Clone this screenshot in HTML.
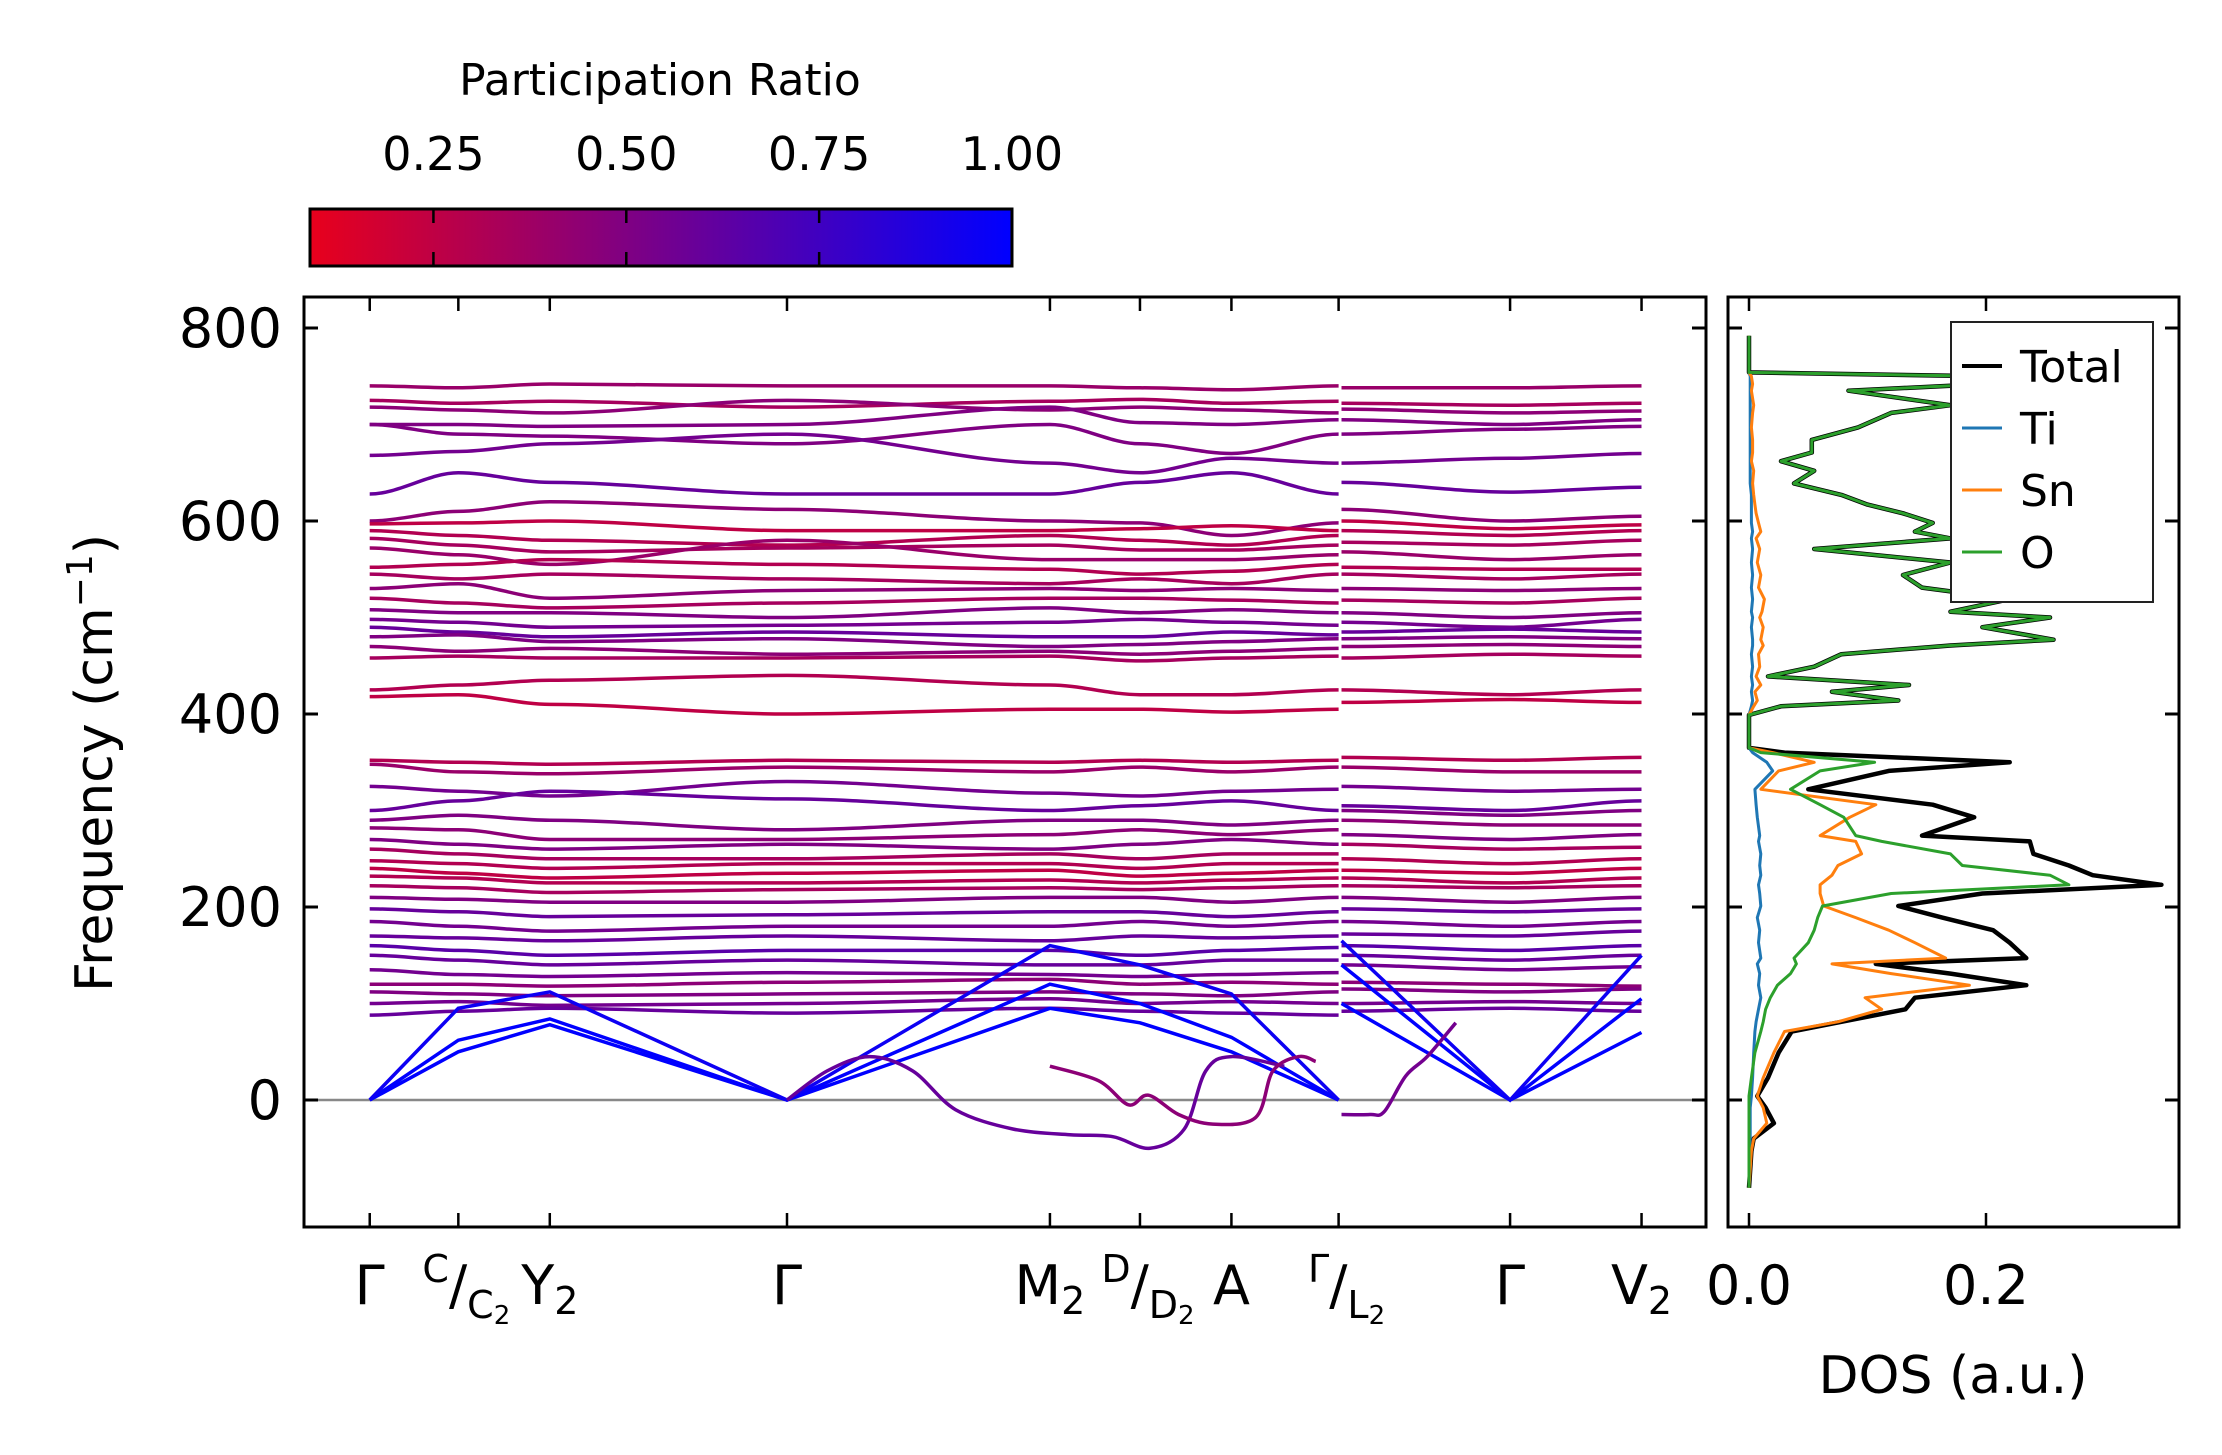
<!DOCTYPE html>
<html><head><meta charset="utf-8"><style>
html,body{margin:0;padding:0;background:#fff;}
svg{display:block;font-family:"DejaVu Sans","Liberation Sans",sans-serif;}
</style></head><body>
<svg id="fig" width="2222" height="1455" viewBox="0 0 2222 1455" xmlns="http://www.w3.org/2000/svg">
<defs>
<linearGradient id="cbgrad" x1="0" x2="1" y1="0" y2="0">
<stop offset="0" stop-color="rgb(232,0,28)"/><stop offset="1" stop-color="rgb(0,0,255)"/>
</linearGradient>
<clipPath id="mainclip"><rect x="304" y="297" width="1402" height="930"/></clipPath>
<clipPath id="dosclip"><rect x="1728" y="297" width="451" height="930"/></clipPath>
</defs>
<rect width="2222" height="1455" fill="#fff"/>

<g>
<text x="660" y="95" font-size="44" text-anchor="middle">Participation Ratio</text>
<rect x="310" y="209" width="702" height="57" fill="url(#cbgrad)" stroke="#000" stroke-width="3"/>
<g id="cbticks"></g>
</g>

<g>
<line x1="304" x2="1706" y1="1100" y2="1100" stroke="#888" stroke-width="2.5"/>
<g id="bands" clip-path="url(#mainclip)"></g>
<rect x="304" y="297" width="1402" height="930" fill="none" stroke="#000" stroke-width="3"/>
<g id="mainticks"></g>
<text transform="translate(112,763) rotate(-90)" font-size="52" text-anchor="middle">Frequency (cm<tspan dy="-20" font-size="36">−1</tspan><tspan dy="20">)</tspan></text>
</g>

<g>
<g id="dos" clip-path="url(#dosclip)"></g>
<rect x="1728" y="297" width="451" height="930" fill="none" stroke="#000" stroke-width="3"/>
<g id="dosticks"></g>
<text x="1953" y="1393" font-size="52" text-anchor="middle">DOS (a.u.)</text>
<g>
<rect x="1951" y="322" width="202" height="280" fill="#fff" stroke="#222" stroke-width="2"/>
<line x1="1962" x2="2002" y1="366" y2="366" stroke="#000" stroke-width="4"/>
<text x="2020" y="382" font-size="44">Total</text>
<line x1="1962" x2="2002" y1="428" y2="428" stroke="#1f77b4" stroke-width="3"/>
<text x="2020" y="444" font-size="44">Ti</text>
<line x1="1962" x2="2002" y1="490" y2="490" stroke="#ff7f0e" stroke-width="3"/>
<text x="2020" y="506" font-size="44">Sn</text>
<line x1="1962" x2="2002" y1="552" y2="552" stroke="#2ca02c" stroke-width="3"/>
<text x="2020" y="568" font-size="44">O</text>
</g>
</g>
</svg>
<script>
const yTicks = [0, 200, 400, 600, 800];
const kNodes1 = [0, 0.62, 1.26, 2.92, 4.76, 5.39, 6.03, 6.78];
const kNodes2 = [6.80, 7.98, 8.90];
const kTickPos = [0, 0.62, 1.26, 2.92, 4.76, 5.39, 6.03, 6.78, 7.98, 8.90];
const kTickLabels = ["Γ","C/C2","Y2","Γ","M2","D/D2","A","Γ/L2","Γ","V2"];
const cbTicks = [0.25, 0.50, 0.75, 1.00];
const cbTickLabels = ["0.25","0.50","0.75","1.00"];
const dosTicks = [0.0, 0.2];
const dosTickLabels = ["0.0","0.2"];

const bandSec1 = [
[740,738,742,740,740,738,736,740],[725,722,724,718,724,726,722,724],[718,715,712,725,715,718,715,712],
[700,700,698,700,718,702,700,705],[700,690,688,680,700,680,670,690],[668,672,680,690,660,650,665,660],
[628,650,640,628,628,640,650,628],[600,610,620,612,600,598,585,598],[597,598,600,590,590,592,595,590],
[590,585,580,575,585,580,575,585],[582,575,568,572,575,570,570,575],[572,565,555,580,560,560,560,565],
[552,555,560,555,550,545,548,555],[545,540,545,540,535,540,535,545],[530,535,520,528,530,528,530,528],
[520,515,510,515,520,520,518,515],[508,505,505,500,510,505,508,505],[498,495,490,492,495,498,495,492],
[490,485,480,485,480,480,485,482],[480,482,475,478,470,472,475,478],[470,465,468,462,465,462,465,468],
[458,460,458,458,460,455,458,460],[425,430,435,440,430,420,420,425],[418,420,410,400,405,405,402,405],
[352,350,348,352,350,352,350,352],[348,340,338,345,340,345,340,345],[325,320,315,330,318,315,320,322],
[300,310,320,312,300,305,310,300],[290,295,290,280,290,290,285,290],[282,280,270,270,275,280,275,280],
[270,265,260,265,260,265,270,265],[260,255,250,250,255,250,255,255],[248,245,240,245,245,240,245,245],
[240,235,230,235,238,232,235,238],[232,230,225,225,228,225,228,230],[222,220,215,218,220,218,220,222],
[210,208,205,205,210,210,205,210],[198,195,190,192,195,195,190,195],[185,180,175,180,180,185,180,185],
[170,168,165,170,165,170,168,170],[160,155,150,155,155,150,155,158],[150,145,140,145,140,140,145,145],
[135,130,128,132,130,128,130,132],[120,120,118,122,125,120,122,120],[112,110,108,110,112,110,108,112],
[100,102,98,100,105,100,102,100],[88,92,95,90,95,92,90,88]
];
const bandSec2 = [
[738,738,740],[722,720,722],[716,712,714],[705,700,705],[690,695,698],[660,665,670],[640,630,635],
[612,600,605],[600,592,596],[590,585,590],[578,575,580],[568,560,565],[552,550,550],[545,540,545],
[530,528,530],[518,515,520],[505,500,505],[495,490,498],[485,488,485],[478,480,478],[470,472,470],
[458,462,460],[425,420,425],[412,415,412],
[355,352,355],[345,340,340],[325,320,322],[305,300,310],[300,295,300],[290,285,285],[275,270,275],
[265,260,262],[250,245,250],[238,235,240],[230,225,230],[222,220,222],[210,205,210],[198,195,198],
[185,180,185],[172,170,175],[160,155,160],[150,145,150],[140,135,138],[122,120,118],[115,112,115],
[100,102,100],[92,95,92]
];
const bandPR = [.40,.35,.45,.5,.5,.55,.6,.45,.25,.3,.35,.4,.3,.35,.45,.35,.5,.55,.6,.5,.45,.35,.3,.25,
.3,.4,.55,.6,.5,.45,.5,.35,.3,.25,.3,.35,.5,.6,.55,.6,.65,.6,.55,.45,.5,.55,.6];

const acSec1 = [[0,50,78,0,95,80,50,0],[0,62,84,0,120,100,65,0],[0,95,112,0,160,140,110,0]];
const acSec2 = [[100,0,70],[140,0,105],[165,0,150]];
const acPR = [1.0, 1.0, 0.95];

const softK1 = [2.92,3.2,3.5,3.8,4.1,4.5,4.9,5.2,5.46,5.7,5.85,6.03,6.4];
const softF1 = [0,30,45,30,-10,-30,-36,-38,-50,-30,30,45,35];
const softK2 = [4.76,5.1,5.31,5.45,5.66,5.9,6.2,6.32,6.5,6.62];
const softF2 = [35,20,-5,5,-15,-25,-18,30,45,40];
const softK3 = [6.80,7.0,7.1,7.25,7.4,7.6];
const softF3 = [-15,-15,-12,25,45,80];
const softPR = [0.6, 0.45, 0.55];

const dosFreq = [-91,-53,-40,-24,-8,4,23,49,71,81,94,106,119,131,141,147,163,176,189,201,214,223,233,243,255,268,274,293,306,322,341,350,360,365,399,408,414,423,430,439,449,462,471,477,490,500,506,519,531,544,557,571,582,589,598,608,617,627,639,652,662,671,684,697,712,720,735,742,750,754,792];
const dosTotal = [0,.002,.004,.021,.014,.007,.016,.025,.036,.078,.132,.14,.234,.17,.107,.234,.22,.206,.163,.126,.197,.348,.29,.27,.24,.237,.146,.19,.155,.05,.118,.22,.03,.0,.0,.027,.126,.07,.135,.016,.055,.078,.17,.257,.197,.254,.17,.22,.146,.13,.17,.055,.17,.14,.155,.13,.10,.078,.038,.055,.027,.053,.053,.092,.12,.17,.084,.2,.2,0,0];
const dosTi = [0,0,.001,.001,.001,.002,.003,.004,.005,.006,.008,.01,.008,.009,.007,.01,.008,.009,.007,.01,.009,.008,.01,.009,.01,.008,.009,.007,.006,.005,.02,.015,.003,0,0,.002,.003,.002,.003,.002,.003,.002,.003,.003,.002,.003,.002,.003,.002,.003,.002,.003,.002,.003,.002,.002,.002,.002,.001,.001,.001,.001,.001,.001,.001,.001,.001,.001,.001,0,0];
const dosSn = [0,.002,.004,.015,.012,.007,.012,.021,.03,.075,.112,.098,.186,.12,.07,.166,.14,.118,.09,.063,.06,.06,.07,.075,.095,.09,.06,.085,.107,.01,.025,.055,.02,0,0,.004,.007,.005,.01,.006,.009,.008,.012,.01,.012,.009,.011,.013,.008,.01,.007,.009,.006,.01,.008,.006,.005,.004,.003,.004,.002,.003,.003,.002,.003,.004,.002,.003,.002,0,0];
const dosO = [0,0,0,0,0,0,.002,.005,.01,.012,.014,.018,.024,.035,.04,.038,.05,.055,.058,.062,.12,.27,.254,.18,.17,.112,.09,.08,.06,.035,.06,.106,.01,0,0,.027,.126,.07,.135,.016,.055,.078,.17,.257,.197,.254,.17,.22,.146,.13,.17,.055,.17,.14,.155,.13,.10,.078,.038,.055,.027,.053,.053,.092,.12,.17,.084,.2,.2,0,0];

const NS = "http://www.w3.org/2000/svg";
function yS(f){ return 1100 - f*0.965; }
function xK(k){ return 304 + (k + 0.46)*142.9; }
function xD(d){ return 1749 + d*1185; }
function xCB(v){ return 310 + (v - 0.09)/0.91*702; }
function prColor(v){ const t=Math.max(0,Math.min(1,(v-0.09)/0.91)); return `rgb(${Math.round(232*(1-t))},0,${Math.round(28+227*t)})`; }
function mk(tag, attrs, parent){ const e=document.createElementNS(NS,tag); for(const a in attrs) e.setAttribute(a,attrs[a]); parent.appendChild(e); return e; }

function flatPath(ks, fs){
  let d=`M${xK(ks[0]).toFixed(1)},${yS(fs[0]).toFixed(1)}`;
  for(let i=0;i<ks.length-1;i++){
    const x0=xK(ks[i]),x1=xK(ks[i+1]),y0=yS(fs[i]),y1=yS(fs[i+1]),dx=(x1-x0)/3;
    d+=` C${(x0+dx).toFixed(1)},${y0.toFixed(1)} ${(x1-dx).toFixed(1)},${y1.toFixed(1)} ${x1.toFixed(1)},${y1.toFixed(1)}`;
  }
  return d;
}
function crPath(ks, fs){
  const P=ks.map((k,i)=>[xK(k),yS(fs[i])]);
  let d=`M${P[0][0].toFixed(1)},${P[0][1].toFixed(1)}`;
  for(let i=0;i<P.length-1;i++){
    const p0=P[Math.max(0,i-1)],p1=P[i],p2=P[i+1],p3=P[Math.min(P.length-1,i+2)];
    const c1=[p1[0]+(p2[0]-p0[0])/6,p1[1]+(p2[1]-p0[1])/6], c2=[p2[0]-(p3[0]-p1[0])/6,p2[1]-(p3[1]-p1[1])/6];
    d+=` C${c1[0].toFixed(1)},${c1[1].toFixed(1)} ${c2[0].toFixed(1)},${c2[1].toFixed(1)} ${p2[0].toFixed(1)},${p2[1].toFixed(1)}`;
  }
  return d;
}
function linPath(ks, fs){ return ks.map((k,i)=>(i?"L":"M")+xK(k).toFixed(1)+","+yS(fs[i]).toFixed(1)).join(" "); }

const gB=document.getElementById("bands");
bandSec1.forEach((b,i)=>{
  const p=mk("path",{d:flatPath(kNodes1,b),fill:"none",stroke:prColor(bandPR[i]),"stroke-width":3.5},gB);
  
  
});
bandSec2.forEach((b,i)=>{
  const p=mk("path",{d:flatPath(kNodes2,b),fill:"none",stroke:prColor(bandPR[i]),"stroke-width":3.5},gB);
  
  
});
acSec1.forEach((b,i)=>{
  const p=mk("path",{d:linPath(kNodes1,b),fill:"none",stroke:prColor(acPR[i]),"stroke-width":3.5},gB);
  
  
});
acSec2.forEach((b,i)=>{
  const p=mk("path",{d:linPath(kNodes2,b),fill:"none",stroke:prColor(acPR[i]),"stroke-width":3.5},gB);
  
  
});
[[softK1,softF1],[softK2,softF2],[softK3,softF3]].forEach((s,i)=>{
  const p=mk("path",{d:crPath(s[0],s[1]),fill:"none",stroke:prColor(softPR[i]),"stroke-width":3.5},gB);
  
  
});

const gT=document.getElementById("mainticks");
yTicks.forEach((v,i)=>{
  const y=yS(v);
  mk("line",{x1:304,x2:318,y1:y,y2:y,stroke:"#000","stroke-width":3},gT);
  mk("line",{x1:1692,x2:1706,y1:y,y2:y,stroke:"#000","stroke-width":3},gT);
  mk("line",{x1:1728,x2:1742,y1:y,y2:y,stroke:"#000","stroke-width":3},gT);
  mk("line",{x1:2165,x2:2179,y1:y,y2:y,stroke:"#000","stroke-width":3},gT);
  const t=mk("text",{x:282,y:y+19,"font-size":54,"text-anchor":"end"},gT);
  t.textContent=String(v);
  
  
});
kTickPos.forEach((k,i)=>{
  const x=xK(k);
  mk("line",{x1:x,x2:x,y1:297,y2:311,stroke:"#000","stroke-width":2.5},gT);
  mk("line",{x1:x,x2:x,y1:1213,y2:1227,stroke:"#000","stroke-width":2.5},gT);
  const lab=kTickLabels[i];
  const t=mk("text",{x:x,y:1304,"font-size":54,"text-anchor":"middle"},gT);
  
  
  if(lab.includes("/")){
    const [a,b]=lab.split("/");
    t.setAttribute("x",x+8);
    const s1=mk("tspan",{"font-size":38,dy:-22},t); s1.textContent=a;
    const s2=mk("tspan",{"font-size":54,dy:22},t); s2.textContent="/";
    const s3=mk("tspan",{"font-size":38,dy:14},t); s3.textContent=b[0];
    const s4=mk("tspan",{"font-size":26,dy:6},t); s4.textContent=b.slice(1);
  } else if(lab.length>1){
    const s1=mk("tspan",{},t); s1.textContent=lab[0];
    const s2=mk("tspan",{"font-size":38,dy:10},t); s2.textContent=lab.slice(1);
  } else t.textContent=lab;
});

const gC=document.getElementById("cbticks");
cbTicks.forEach((v,i)=>{
  const x=xCB(v);
  mk("line",{x1:x,x2:x,y1:209,y2:223,stroke:"#000","stroke-width":2.5},gC);
  mk("line",{x1:x,x2:x,y1:252,y2:266,stroke:"#000","stroke-width":2.5},gC);
  const t=mk("text",{x:x,y:170,"font-size":46,"text-anchor":"middle"},gC);
  t.textContent=cbTickLabels[i];
  
  
});

const gD=document.getElementById("dos");
function dosPath(arr){ return dosFreq.map((f,i)=>(i?"L":"M")+xD(arr[i]).toFixed(1)+","+yS(f).toFixed(1)).join(" "); }
const series=[[dosTotal,"#000",4.5,"dos-total-line"],[dosTi,"#1f77b4",3,"dos-ti-line"],[dosSn,"#ff7f0e",3,"dos-sn-line"],[dosO,"#2ca02c",3,"dos-o-line"]];
series.forEach(s=>{
  const p=mk("path",{d:dosPath(s[0]),fill:"none",stroke:s[1],"stroke-width":s[2],"stroke-linejoin":"round"},gD);
  
  
});
const gDT=document.getElementById("dosticks");
dosTicks.forEach((v,i)=>{
  const x=xD(v);
  mk("line",{x1:x,x2:x,y1:297,y2:311,stroke:"#000","stroke-width":2.5},gDT);
  mk("line",{x1:x,x2:x,y1:1213,y2:1227,stroke:"#000","stroke-width":2.5},gDT);
  const t=mk("text",{x:x,y:1304,"font-size":54,"text-anchor":"middle"},gDT);
  t.textContent=dosTickLabels[i];
  
  
});
</script>
</body></html>
